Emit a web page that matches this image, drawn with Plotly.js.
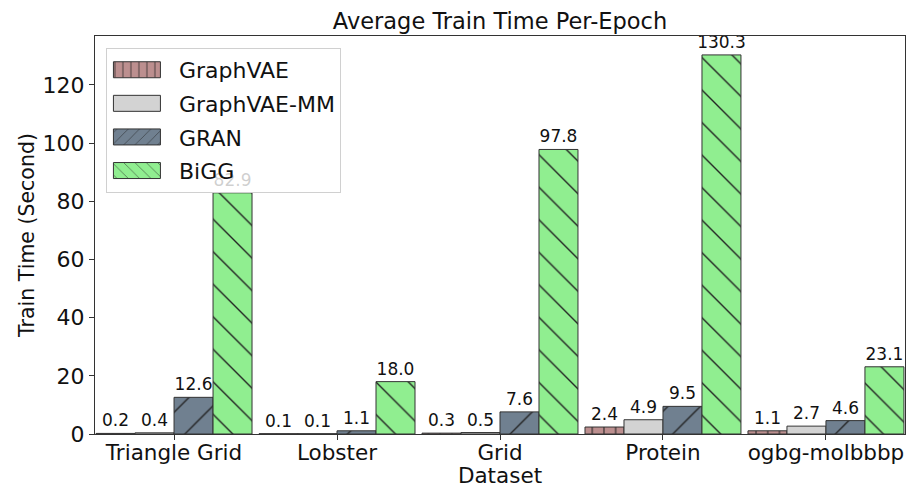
<!DOCTYPE html>
<html>
<head>
<meta charset="utf-8">
<script src="https://cdn.plot.ly/plotly-3.0.1.min.js"></script>
<style>html,body{margin:0;padding:0;background:#fff;}#chart{width:912px;height:488px;}</style>
</head>
<body>
<div id="chart"></div>
<script>
const datasets = ["Triangle Grid", "Lobster", "Grid", "Protein", "ogbg-molbbbp"];
const seriesNames = ["GraphVAE", "GraphVAE-MM", "GRAN", "BiGG"];
const graphvae = [0.2, 0.1, 0.3, 2.4, 1.1];
const graphvaeMM = [0.4, 0.1, 0.5, 4.9, 2.7];
const gran = [12.6, 1.1, 7.6, 9.5, 4.6];
const bigg = [82.9, 18.0, 97.8, 130.3, 23.1];
const yTicks = [0, 20, 40, 60, 80, 100, 120];

const values = [graphvae, graphvaeMM, gran, bigg];
const colors = ["#bc8f8f", "#d3d3d3", "#708090", "#90ee90"];
const shapes = ["|", "", "/", "\\"];
const sizes = [11.7, 10, 23, 23];
const solid = [0.09, 0.1, 0.06, 0.06];
const FONT = "DejaVu Sans, sans-serif";

const traces = values.map((v, i) => ({
  type: "bar",
  name: seriesNames[i],
  x: datasets,
  y: v,
  text: v.map(d => d.toFixed(1)),
  textposition: "outside",
  cliponaxis: false,
  constraintext: "none",
  textfont: {family: FONT, size: 17, color: "#111"},
  legendgroup: "g" + i,
  marker: {
    color: colors[i],
    line: {color: "#333", width: 1},
    pattern: {shape: shapes[i], size: sizes[i], solidity: solid[i], fgcolor: "#222", fgopacity: 1, bgcolor: colors[i], fillmode: "replace"}
  },
  hoverinfo: "skip"
}));

const layout = {
  width: 912, height: 488,
  margin: {l: 95, r: 7, t: 36, b: 54},
  paper_bgcolor: "#fff", plot_bgcolor: "#fff",
  font: {family: FONT, color: "#111", size: 22},
  title: {text: "Average Train Time Per-Epoch", font: {family: FONT, size: 22.5, color: "#111"}, x: 0.5, xref: "paper", xanchor: "center", y: 0.957, yanchor: "middle"},
  barmode: "group", bargap: 0.043, bargroupgap: 0,
  xaxis: {
    type: "category", range: [-0.485, 4.485], automargin: false,
    showline: true, mirror: true, linecolor: "#333", linewidth: 1,
    ticks: "outside", ticklen: 5, tickcolor: "#333", tickfont: {size: 21.5},
    ticklabelstandoff: -6,
    title: {text: "Dataset", font: {size: 21.5}, standoff: 9},
    showgrid: false, zeroline: false
  },
  yaxis: {
    range: [0, 136.8], tickvals: yTicks, ticktext: yTicks.map(String), automargin: false,
    showline: true, mirror: true, linecolor: "#333", linewidth: 1,
    ticks: "outside", ticklen: 5, tickcolor: "#333", tickfont: {size: 22},
    title: {text: "Train Time (Second)", font: {size: 20.5}, standoff: 2},
    showgrid: false, zeroline: false
  },
  showlegend: true,
  legend: {
    x: 0.0135, y: 0.97, xanchor: "left", yanchor: "top",
    bgcolor: "rgba(255,255,255,0.8)", bordercolor: "#d0d0d0", borderwidth: 1,
    font: {family: FONT, size: 22, color: "#111"},
    traceorder: "grouped", tracegroupgap: 2, itemwidth: 62
  }
};

Plotly.newPlot("chart", traces, layout, {staticPlot: true, displayModeBar: false}).then(function (gd) {
  gd.querySelectorAll(".legend .legendpoints path").forEach(function (p) {
    p.setAttribute("d", "M17.5,8H-29.5V-8H17.5Z");
  });
});
</script>
</body>
</html>
